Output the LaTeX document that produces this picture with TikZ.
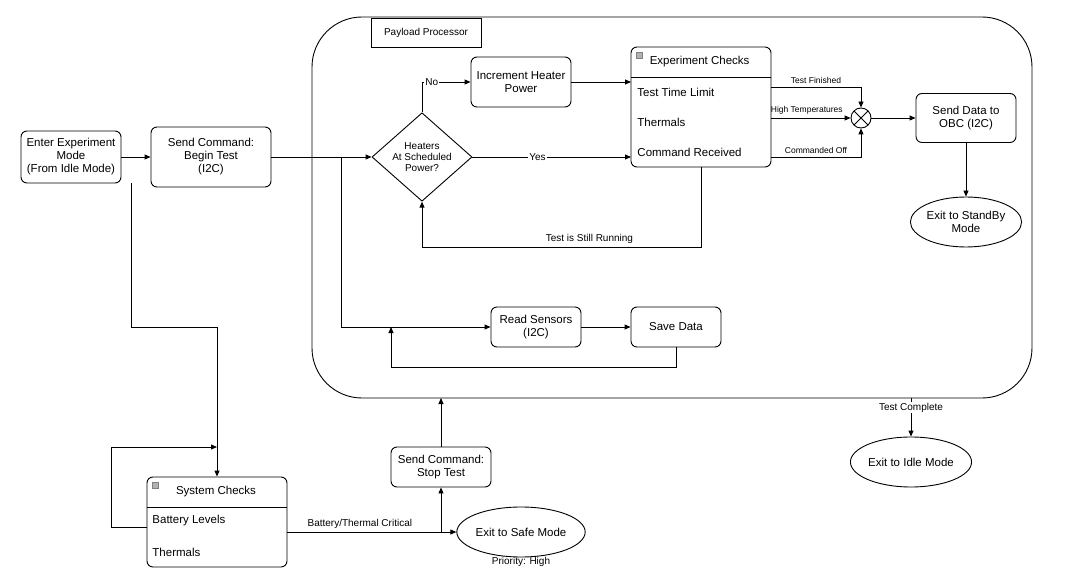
\documentclass[tikz,border=0pt]{standalone}
\usepackage{fontspec}
\setmainfont{Liberation Sans}
\usetikzlibrary{arrows.meta,shapes.geometric,shapes.misc}
\begin{document}
\begin{tikzpicture}[x=1pt,y=-1pt,
  every node/.style={font=\fontsize{11.5}{13}\selectfont},
  box/.style={draw,rounded corners=6pt,align=center,inner sep=0pt,fill=white},
  ell/.style={draw,ellipse,minimum width=100pt,minimum height=50pt,inner sep=0pt,align=center},
  sm/.style={font=\fontsize{10}{11}\selectfont},
  xs/.style={font=\fontsize{8.5}{10}\selectfont},
  lbl/.style={sm,fill=white,inner sep=1pt},
  row/.style={anchor=west,inner sep=0pt},
  icon/.style={draw=gray,fill=gray!60,minimum size=6pt,inner sep=0pt},
  arr/.style={-{Triangle[length=6pt,width=5pt]}},
  line width=0.9pt]
\useasboundingbox (0,0) rectangle (1071,580);
% payload processor
\draw[rounded corners=50pt] (312,17) rectangle (1032,398);
\node[draw,minimum width=110pt,minimum height=29pt,inner sep=0pt,sm] (pp) at (426,32.5) {Payload Processor};
% nodes
\node[box,minimum width=100pt,minimum height=52pt] (enter) at (71,157) {Enter Experiment\\Mode\\(From Idle Mode)};
\node[box,minimum width=120pt,minimum height=60pt] (begin) at (211,157) {Send Command:\\Begin Test\\(I2C)};
\node[draw,diamond,minimum width=100pt,minimum height=80pt,inner sep=0pt,align=center,sm] (dia) at (422,157) {Heaters\\At Scheduled\\Power?};
\node[box,minimum width=100pt,minimum height=50pt] (inc) at (521,82) {Increment Heater\\Power};
\node[box,minimum width=140pt,minimum height=120pt] (exp) at (701,107) {};
\draw (631,77) -- (771,77);
\node[icon] at (639,55) {};
\node[anchor=west] at (646,62) {Experiment Checks};
\node[row] (ttl) at (637,92) {Test Time Limit};
\node[row] (eth) at (637,122) {Thermals};
\node[row] (cmd) at (637,152) {Command Received};
\node[draw,circle,minimum size=20pt,inner sep=0pt] (x) at (861,118) {};
\draw ([shift={(45:10pt)}]x.center) -- ([shift={(225:10pt)}]x.center)
      ([shift={(135:10pt)}]x.center) -- ([shift={(315:10pt)}]x.center);
\node[box,minimum width=100pt,minimum height=49pt] (obc) at (966,118) {Send Data to\\OBC (I2C)};
\node[ell] (standby) at (966,222) {Exit to StandBy\\Mode};
\node[box,minimum width=90pt,minimum height=40pt] (read) at (536,327) {Read Sensors\\(I2C)};
\node[box,minimum width=90pt,minimum height=40pt] (save) at (676,327) {Save Data};
\node[ell] (idle) at (911,462) {Exit to Idle Mode};
\node[box,minimum width=100pt,minimum height=40pt] (stop) at (441,467) {Send Command:\\Stop Test};
\node[box,minimum width=140pt,minimum height=90pt] (sys) at (217,522) {};
\draw (147,507) -- (287,507);
\node[icon] at (155,485) {};
\node at (216,492) {System Checks};
\node[row] (bat) at (152,521) {Battery Levels};
\node[row] (sth) at (152,552) {Thermals};
\node[ell] (safe) at (521,532) {Exit to Safe Mode};
\node[sm] (prio) at (521,562) {Priority: High};
% coordinates
\coordinate (j1) at (341,157);
\coordinate (j2) at (441,532);
\coordinate (ppb) at (441,398);
\coordinate (ppi) at (911,398);
% connectors
\draw[arr] (enter.east) -- (begin.west);
\draw[arr] (begin.east) -- (dia.west);
\draw[arr] (j1) |- (read.west);
\draw[arr] (dia.north) |- (inc.west) node[pos=0.6,lbl] {No};
\draw[arr] (inc.east) -- (631,82);
\draw[arr] (dia.east) -- (631,157) node[pos=0.41,lbl] {Yes};
\draw[arr] (701,167) -- (701,247) -- node[pos=0.4,above,sm] {Test is Still Running} (422,247) -- (dia.south);
\draw[arr] (771,87) -- node[above,xs] {Test Finished} (861,87) -- (x.north);
\draw[arr] (771,118) -- node[above,pos=0.45,xs] {High Temperatures} (x.west);
\draw[arr] (771,157) -- node[above,xs] {Commanded Off} (861,157) -- (x.south);
\draw[arr] (x.east) -- (obc.west);
\draw[arr] (obc.south) -- (standby.north);
\draw[arr] (read.east) -- (save.west);
\draw[arr] (save.south) -- (676,367) -- (391,367) -- (391,327);
\draw[arr] (131,183) -- (131,327) -- (217,327) -- (sys.north);
\draw[arr] (147,527) -- (111,527) -- (111,447) -- (217,447);
\draw[arr] (287,532) -- node[above,pos=0.43,sm] {Battery/Thermal Critical} (safe.west);
\draw[arr] (j2) -- (stop.south);
\draw[arr] (stop.north) -- (ppb);
\draw[arr] (ppi) -- node[pos=0.25,lbl] {Test Complete} (idle.north);
\end{tikzpicture}
\end{document}
